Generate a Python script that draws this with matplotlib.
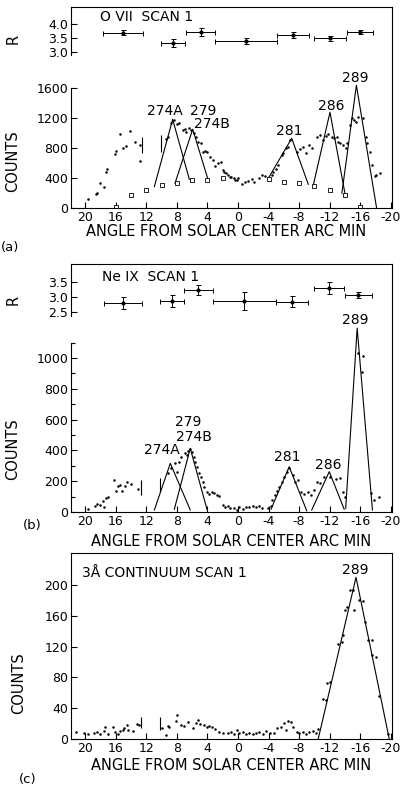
import matplotlib
matplotlib.use("Agg")
import matplotlib.pyplot as plt
from matplotlib.ticker import FixedLocator, FixedFormatter

# ---------------- data ----------------
X_TICKS = [20, 16, 12, 8, 4, 0, -4, -8, -12, -16, -20]
X_TICK_LABELS = ["20", "16", "12", "8", "4", "0", "-4", "-8", "-12", "-16", "-20"]

# Panel (a) O VII scan 1
A_R_X = [15.05, 8.5, 4.9, -1.05, -7.2, -12.0, -16.0]
A_R_XERR = [2.6, 1.57, 1.9, 4.05, 2.1, 2.1, 1.7]
A_R = [3.70, 3.33, 3.73, 3.40, 3.61, 3.50, 3.73]
A_R_ERR = [0.09, 0.13, 0.15, 0.10, 0.10, 0.10, 0.08]

A_X = [
    19.6, 18.6, 18.4, 18.1, 17.6, 17.3, 17.1, 16.1, 16.0, 15.45,
    15.1, 14.7, 14.2, 13.5, 12.8, 12.8, 9.4, 9.2, 8.8, 8.4,
    8.0, 7.7, 7.2, 6.9, 6.8, 6.4, 6.1, 5.8, 5.5, 5.3,
    4.9, 4.6, 4.3, 4.0, 3.6, 3.3, 3.0, 2.65, 2.2, 2.0,
    1.8, 1.6, 1.3, 1.05, 0.9, 0.5, 0.4, 0.1, 0.0, -0.5,
    -0.9, -1.35, -1.8, -2.1, -2.7, -3.1, -3.5, -4.0, -4.4, -4.6,
    -5.0, -5.3, -5.7, -5.9, -6.3, -6.6, -6.8, -7.7, -8.1, -8.5,
    -8.9, -9.3, -9.65, -10.4, -10.7, -11.1, -11.5, -11.8, -12.3, -12.6,
    -12.9, -13.1, -13.4, -13.8, -14.1, -14.3, -14.6, -14.9, -15.2, -15.45,
    -15.7, -16.4, -16.8, -16.9, -17.3, -17.6, -17.9, -18.1, -18.6]
A_C = [
    120, 185, 200, 333, 288, 490, 530, 720, 770, 990,
    800, 835, 1030, 880, 840, 630, 920, 955, 1133, 1177,
    1120, 1141, 1044, 1053, 1021, 1066, 1044, 1000, 955, 888,
    866, 755, 764, 755, 688, 644, 564, 600, 621, 510,
    488, 475, 444, 421, 413, 400, 377, 377, 400, 320,
    355, 364, 391, 355, 408, 444, 435, 400, 444, 488,
    524, 577, 710, 733, 800, 821, 910, 755, 790, 821,
    733, 844, 808, 955, 977, 910, 963, 986, 955, 933,
    955, 888, 866, 844, 800, 866, 1110, 1208, 1177, 1155,
    1220, 1200, 955, 866, 755, 577, 430, 444, 466]
A_BAR_X = [12.57, 10.05]
A_BAR_LO = [741, 755]
A_BAR_HI = [954, 977]
A_SQ_X = [16, 14, 12, 10, 8, 6, 4, 2, -4, -6, -8, -10, -12, -14, -16]
A_SQ_C = [15, 180, 245, 310, 335, 380, 380, 400, 390, 355, 335, 300, 245, 180, 20]
A_PEAK_X = [[10.95, 8.55, 6.37], [8.25, 5.93, 3.97], [-3.97, -7.03, -9.2],
            [-9.86, -12.04, -14.0], [-13.6, -15.5, -18.15]]
A_PEAK_C = [[288, 1186, 386], [333, 1053, 400], [400, 933, 320],
            [310, 1280, 200], [200, 1640, 0]]
A_LABELS = ["274A", "279", "274B", "281", "286", "289"]
A_LABEL_X = [9.55, 4.5, 3.4, -6.7, -12.2, -15.4]
A_LABEL_C = [1300, 1300, 1128, 1035, 1368, 1733]

# Panel (b) Ne IX scan 1
B_R_X = [15.1, 8.6, 5.2, -0.85, -7.1, -11.9, -15.75]
B_R_XERR = [2.5, 1.57, 1.9, 4.15, 2.1, 1.96, 1.75]
B_R = [2.78, 2.87, 3.22, 2.87, 2.84, 3.30, 3.07]
B_R_ERR = [0.20, 0.20, 0.17, 0.30, 0.17, 0.20, 0.10]

B_X = [
    19.7, 18.7, 18.4, 18.0, 17.7, 17.6, 17.3, 17.0, 16.2, 16.0,
    15.75, 15.5, 15.2, 14.8, 14.5, 14.0, 13.1, 9.2, 8.8, 8.25,
    8.0, 7.7, 7.4, 7.0, 6.7, 6.5, 6.25, 6.06, 5.8, 5.6,
    5.4, 5.15, 4.85, 4.6, 4.4, 4.06, 3.76, 3.44, 3.1, 2.75,
    2.45, 2.0, 1.7, 1.35, 1.0, 0.5, 0.13, -0.17, -0.6, -1.05,
    -1.5, -1.9, -2.4, -2.8, -3.2, -3.9, -4.3, -4.5, -4.8, -5.1,
    -5.4, -5.7, -6.06, -6.4, -6.7, -7.16, -7.5, -7.8, -8.25, -8.7,
    -9.1, -9.55, -10.0, -10.4, -10.8, -11.2, -12.1, -12.8, -13.3, -13.7,
    -14.0, -15.75, -16.3, -16.2, -17.4, -17.8, -18.5]
B_C = [
    17, 40, 55, 45, 70, 30, 90, 100, 205, 135,
    170, 175, 135, 170, 195, 185, 150, 251, 284, 316,
    262, 327, 355, 381, 370, 398, 407, 392, 359, 327,
    294, 251, 229, 197, 164, 132, 117, 132, 125, 110,
    104, 45, 34, 39, 24, 24, 13, 30, 18, 30,
    34, 39, 30, 39, 24, 24, 39, 78, 110, 138,
    164, 197, 229, 262, 284, 240, 197, 208, 132, 117,
    132, 110, 143, 197, 190, 229, 229, 212, 219, 132,
    100, 1030, 1013, 911, 121, 78, 95]
B_BAR_X = [12.7, 10.2]
B_BAR_LO = [110, 132]
B_BAR_HI = [208, 220]
B_PEAK_X = [[10.95, 8.86, 6.25], [8.33, 6.25, 4.06], [-4.32, -6.7, -9.0],
            [-9.65, -11.95, -13.9], [-14.1, -15.6, -17.6]]
B_PEAK_C = [[13, 316, 13], [18, 413, 18], [18, 294, 8],
            [13, 262, 18], [24, 1193, 13]]
B_LABELS = ["274A", "279", "274B", "281", "286", "289"]
B_LABEL_X = [9.97, 6.5, 5.8, -6.5, -11.85, -15.4]
B_LABEL_C = [403, 586, 489, 355, 305, 1247]

# Panel (c) 3 A continuum scan 1
C_X = [
    21.2, 20.2, 19.7, 18.8, 18.45, 18.0, 17.6, 17.4, 17.0, 16.3,
    16.1, 15.7, 15.4, 15.1, 14.9, 14.5, 14.4, 13.7, 13.2, 12.9,
    10.0, 9.4, 9.2, 9.0, 8.1, 7.98, 7.46, 7.03, 6.5, 5.93,
    5.5, 5.28, 4.93, 4.41, 4.06, 3.76, 3.44, 3.0, 2.45, 2.0,
    1.35, 0.92, 0.48, 0.13, -0.17, -0.62, -1.05, -1.48, -1.92, -2.36,
    -2.8, -3.23, -3.66, -4.2, -4.76, -5.1, -5.63, -5.98, -6.28, -6.58,
    -6.94, -7.16, -7.72, -8.0, -8.47, -8.9, -9.33, -9.77, -10.2, -10.5,
    -11.1, -11.5, -11.7, -12.1, -13.1, -13.6, -13.8, -14.0, -14.3, -14.6,
    -15.0, -15.2, -15.9, -16.4, -16.6, -17.06, -17.5, -17.6, -18.1, -18.4,
    -19.7]
C_C = [
    9.5, 8, 7, 8, 9.5, 7, 10, 15, 7, 15,
    9.5, 7, 11, 12, 14, 18, 12, 11, 20, 18,
    14, 5, 17, 15, 24, 31, 18, 17, 22, 14,
    21, 25, 20, 18, 15, 17, 15, 13, 9.5, 8,
    8, 9.5, 7, 12, 8, 9.5, 7, 8, 6.5, 8,
    9.5, 7, 11, 8, 8, 14, 16, 21, 12, 24,
    22, 16, 9.5, 8, 9.5, 7, 9.5, 11, 8, 12.5,
    52, 51, 73, 74, 124, 126, 135, 168, 172, 193,
    194, 167, 180, 179, 152, 129, 129, 109, 107, 56,
    7]
C_BAR_X = [12.7, 10.2]
C_BAR_LO = [14, 12]
C_BAR_HI = [29, 29]
C_PEAK_X = [[-10.5, -15.45, -19.8]]
C_PEAK_C = [[0, 210, 0]]
C_LABELS = ["289"]
C_LABEL_X = [-15.4]
C_LABEL_C = [219]

# ---------------- layout ----------------
W, H = 402, 789
plt.rcParams["font.family"] = ["DejaVu Sans"]
fig = plt.figure(figsize=(W / 100, H / 100), dpi=100)
fig.patch.set_facecolor("white")

LEFT, RIGHT = 71, 392
XLIM = (21.86, -20.16)
LW = 0.8
TICK_FS = 9
XLABEL_FS = 10.5
YLABEL_FS = 10.5
TITLE_FS = 10
PEAK_FS = 10


def rect(l, t, r, b):
    return [l / W, 1 - b / H, (r - l) / W, (b - t) / H]


def style_main(ax, ylim, spine_top, yticks, xlab_pos, minor=None):
    ax.set_xlim(*XLIM)
    ax.set_ylim(*ylim)
    for s in ax.spines.values():
        s.set_linewidth(LW)
    ax.spines["left"].set_bounds(0, spine_top)
    ax.xaxis.set_major_locator(FixedLocator(X_TICKS))
    ax.xaxis.set_major_formatter(FixedFormatter(X_TICK_LABELS))
    ax.yaxis.set_major_locator(FixedLocator(yticks))
    if minor is not None:
        ax.yaxis.set_minor_locator(FixedLocator(minor))
    ax.tick_params(axis="both", which="both", direction="in", top=False,
                   right=False, labelsize=TICK_FS, width=LW)
    ax.tick_params(axis="both", which="major", length=4)
    ax.tick_params(axis="both", which="minor", length=3)
    ax.tick_params(axis="x", pad=2)
    ax.tick_params(axis="y", pad=2)
    ax.set_xlabel("ANGLE FROM SOLAR CENTER ARC MIN", fontsize=XLABEL_FS)
    ax.xaxis.set_label_coords(*xlab_pos)


def style_r(ax, ylim, spine_lo, yticks):
    ax.set_xlim(*XLIM)
    ax.set_ylim(*ylim)
    ax.patch.set_alpha(0)
    for k in ("top", "right", "bottom"):
        ax.spines[k].set_visible(False)
    ax.spines["left"].set_linewidth(LW)
    ax.spines["left"].set_bounds(spine_lo, ylim[1])
    ax.set_xticks([])
    ax.yaxis.set_major_locator(FixedLocator(yticks))
    ax.yaxis.set_major_formatter(FixedFormatter([f"{v:.1f}" for v in yticks]))
    ax.tick_params(axis="y", direction="in", length=4, width=LW,
                   labelsize=TICK_FS, pad=2)


def draw_data(ax, xs, cs, bx, blo, bhi, px, pc, labs, lx, lc):
    ax.plot(xs, cs, linestyle="none", marker="o", markersize=1.8,
            color="black", markeredgewidth=0)
    ax.vlines(bx, blo, bhi, colors="black", linewidth=LW)
    for x3, c3 in zip(px, pc):
        ax.plot(x3, c3, color="black", linewidth=LW)
    for t, x, c in zip(labs, lx, lc):
        ax.text(x, c, t, ha="center", va="center", fontsize=PEAK_FS,
                clip_on=False)


def draw_r(ax, x, xerr, r, rerr):
    ax.errorbar(x, r, xerr=xerr, yerr=rerr, fmt="o", markersize=2,
                color="black", elinewidth=0.7, capsize=1.8, capthick=0.7)


# ----- panel (a) -----
axA = fig.add_axes(rect(LEFT, 7, RIGHT, 208.3))
style_main(axA, (0, 2683), 1600, [0, 400, 800, 1200, 1600], (0.482, -0.08))
draw_data(axA, A_X, A_C, A_BAR_X, A_BAR_LO, A_BAR_HI, A_PEAK_X, A_PEAK_C,
          A_LABELS, A_LABEL_X, A_LABEL_C)
axA.plot(A_SQ_X, A_SQ_C, linestyle="none", marker="s", markersize=3.2,
         markerfacecolor="white", markeredgecolor="black", markeredgewidth=0.6)
axA.set_ylabel("COUNTS", fontsize=YLABEL_FS)
axA.yaxis.set_label_coords(-0.157, 0.235)
axA.text(0.09, 0.95, "O VII  SCAN 1", transform=axA.transAxes,
         fontsize=TITLE_FS, ha="left", va="center")

axAR = fig.add_axes(rect(LEFT, 7, RIGHT, 60))
style_r(axAR, (2.725, 4.618), 2.9, [3.0, 3.5, 4.0])
draw_r(axAR, A_R_X, A_R_XERR, A_R, A_R_ERR)
axAR.set_ylabel("R", fontsize=YLABEL_FS)
axAR.yaxis.set_label_coords(-0.157, 0.40)

fig.text(10 / W, 1 - 247 / H, "(a)", fontsize=9.5, ha="center", va="center")

# ----- panel (b) -----
axB = fig.add_axes(rect(LEFT, 264, RIGHT, 512))
style_main(axB, (0, 1610), 1100, [0, 200, 400, 600, 800, 1000],
           (0.5, -0.088), minor=[100, 300, 500, 700, 900, 1100])
draw_data(axB, B_X, B_C, B_BAR_X, B_BAR_LO, B_BAR_HI, B_PEAK_X, B_PEAK_C,
          B_LABELS, B_LABEL_X, B_LABEL_C)
axB.set_ylabel("COUNTS", fontsize=YLABEL_FS)
axB.yaxis.set_label_coords(-0.157, 0.254)
axB.text(0.096, 0.949, "Ne IX  SCAN 1", transform=axB.transAxes,
         fontsize=TITLE_FS, ha="left", va="center")

axBR = fig.add_axes(rect(LEFT, 264, RIGHT, 318))
style_r(axBR, (2.29, 4.09), 2.35, [2.5, 3.0, 3.5])
draw_r(axBR, B_R_X, B_R_XERR, B_R, B_R_ERR)
axBR.set_ylabel("R", fontsize=YLABEL_FS)
axBR.yaxis.set_label_coords(-0.157, 0.333)

fig.text(32 / W, 1 - 526 / H, "(b)", fontsize=9.5, ha="center", va="center")

# ----- panel (c) -----
axC = fig.add_axes(rect(LEFT, 553, RIGHT, 739))
style_main(axC, (0, 241.6), 241.6, [0, 40, 80, 120, 160, 200], (0.498, -0.1))
draw_data(axC, C_X, C_C, C_BAR_X, C_BAR_LO, C_BAR_HI, C_PEAK_X, C_PEAK_C,
          C_LABELS, C_LABEL_X, C_LABEL_C)
axC.set_ylabel("COUNTS", fontsize=YLABEL_FS)
axC.yaxis.set_label_coords(-0.141, 0.30)
axC.text(0.034, 0.892, "3Å CONTINUUM SCAN 1", transform=axC.transAxes,
         fontsize=TITLE_FS, ha="left", va="center")

fig.text(28 / W, 1 - 779 / H, "(c)", fontsize=9.5, ha="center", va="center")

fig.savefig("out.png", dpi=100, facecolor="white")
